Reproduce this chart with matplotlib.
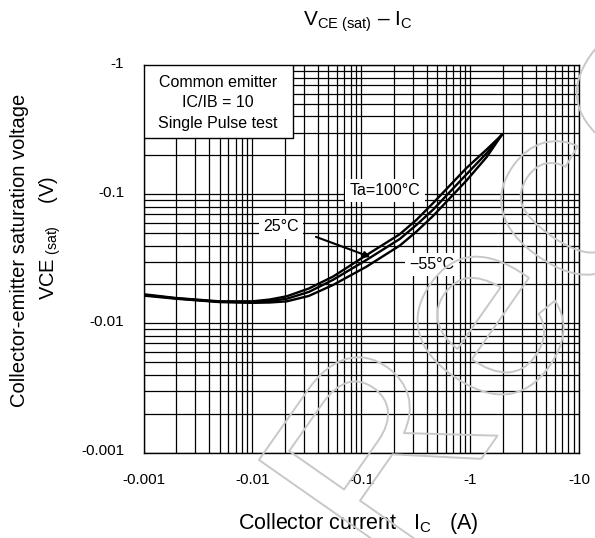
import matplotlib
matplotlib.use('Agg')
import matplotlib.pyplot as plt
import matplotlib.patheffects as pe
import matplotlib.transforms as mtransforms
from matplotlib.patches import Rectangle
from matplotlib.ticker import LogLocator, NullFormatter

plt.rcParams['font.family'] = ['Liberation Sans', 'DejaVu Sans']
plt.rcParams['mathtext.fontset'] = 'custom'
plt.rcParams['mathtext.rm'] = 'Liberation Sans'
plt.rcParams['mathtext.it'] = 'Liberation Sans:italic'

# collector current (A, shown as negative on the axis)
ic = [0.001, 0.002, 0.005, 0.01, 0.0145, 0.0207, 0.033, 0.055, 0.112, 0.226, 0.323, 0.458, 0.93, 1.42, 1.95]
# saturation voltage (V) per ambient temperature
vce_100 = [0.0168, 0.0157, 0.0148, 0.0148, 0.0153, 0.0162, 0.0186, 0.0230, 0.0338, 0.049, 0.0635, 0.0855, 0.160, 0.222, 0.287]
vce_25 = [0.0166, 0.0156, 0.0147, 0.0146, 0.0149, 0.0155, 0.0175, 0.0217, 0.0310, 0.045, 0.0580, 0.0760, 0.143, 0.208, 0.287]
vce_m55 = [0.0164, 0.0155, 0.0146, 0.0144, 0.0145, 0.0148, 0.0163, 0.0198, 0.0275, 0.040, 0.0515, 0.068, 0.128, 0.194, 0.287]

x_ticks = [0.001, 0.01, 0.1, 1, 10]
x_labels = ['-0.001', '-0.01', '-0.1', '-1', '-10']
y_ticks = [0.001, 0.01, 0.1, 1]
y_labels = ['-0.001', '-0.01', '-0.1', '-1']

fig = plt.figure(figsize=(5.95, 5.38), dpi=100)
ax = fig.add_axes([143.5 / 595, 1 - 452.5 / 538, 435.5 / 595, 387.5 / 538])
ax.set_xscale('log')
ax.set_yscale('log')
ax.set_xlim(0.001, 10)
ax.set_ylim(0.001, 1)

for axis in (ax.xaxis, ax.yaxis):
    axis.set_minor_locator(LogLocator(base=10, subs=range(2, 10)))
    axis.set_minor_formatter(NullFormatter())
ax.set_xticks(x_ticks, x_labels)
ax.set_yticks(y_ticks, y_labels)
ax.grid(which='both', color='black', lw=0.9)
ax.tick_params(which='both', length=0)
ax.tick_params(axis='x', pad=15, labelsize=11)
ax.tick_params(axis='y', pad=14, labelsize=11)
shift = mtransforms.ScaledTranslation(0, 2 / 72, fig.dpi_scale_trans)
for lab in ax.get_yticklabels():
    lab.set_transform(lab.get_transform() + shift)
for s in ax.spines.values():
    s.set_linewidth(1.0)
    s.set_color('black')

for v in (vce_100, vce_25, vce_m55):
    ax.plot(ic, v, color='black', lw=1.7, zorder=3)

# condition box
ax.add_patch(Rectangle((0, 0.812), 0.343, 0.188, transform=ax.transAxes,
                       facecolor='white', edgecolor='black', lw=1, zorder=4))
for yy, t in zip([0.956, 0.902, 0.848], ['Common emitter', 'IC/IB = 10', 'Single Pulse test']):
    ax.text(0.171, yy, t, transform=ax.transAxes, ha='center', va='center',
            fontsize=11.5, zorder=5)

bb = dict(facecolor='white', edgecolor='none', pad=3)
ax.text(0.5545, 0.677, 'Ta=100°C', transform=ax.transAxes, ha='center', va='center',
        fontsize=11.5, bbox=bb, zorder=5)
ax.text(0.316, 0.582, '25°C', transform=ax.transAxes, ha='center', va='center',
        fontsize=11.5, bbox=bb, zorder=5)
ax.text(0.662, 0.486, '\u221255°C', transform=ax.transAxes, ha='center', va='center',
        fontsize=11.5, bbox=bb, zorder=5)
ax.annotate('', xy=(0.527, 0.502), xytext=(0.390, 0.559), xycoords='axes fraction',
            arrowprops=dict(arrowstyle='-|>', color='black', lw=1.5, mutation_scale=9),
            zorder=5)

fig.text(358 / 595, 1 - 22 / 538, r'$\mathregular{V_{CE\ (sat)}}$ – $\mathregular{I_C}$',
         ha='center', va='center', fontsize=15)
fig.text(358 / 595, 1 - 523 / 538, r'Collector current   $\mathregular{I_C}$   (A)',
         ha='center', va='center', fontsize=15.5)
fig.text(20 / 595, 1 - 250 / 538, 'Collector-emitter saturation voltage',
         rotation=90, ha='center', va='center', fontsize=14.5)
fig.text(50 / 595, 1 - 238 / 538, r'$\mathregular{VCE_{\ (sat)}}$    (V)',
         rotation=90, ha='center', va='center', fontsize=14.5)

# faint outlined watermark
fig.text(0.74, -0.14, 'Reco', fontsize=190, rotation=55, rotation_mode='anchor',
         ha='left', va='bottom', color='none', zorder=10,
         path_effects=[pe.Stroke(linewidth=1.4, foreground='#c8c8c8')])

fig.savefig('out.png', dpi=100)
